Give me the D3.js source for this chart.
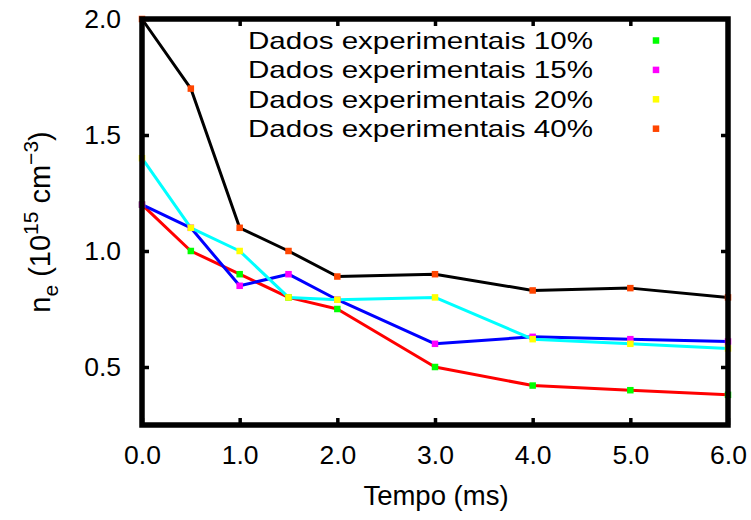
<!DOCTYPE html>
<html>
<head>
<meta charset="utf-8">
<script src="https://cdn.jsdelivr.net/npm/d3@7"></script>
<style>
  html, body { margin: 0; padding: 0; background: #fff; }
  svg { display: block; }
  text { font-family: "Liberation Sans", Arial, Helvetica, sans-serif; fill: #000; }
</style>
</head>
<body>
<svg id="chart" width="751" height="520"></svg>
<script>
// ---- data ----
const times = [0, 0.5, 1.0, 1.5, 2.0, 3.0, 4.0, 5.0, 6.0];
const serie10 = [1.20, 1.00, 0.90, 0.80, 0.75, 0.50, 0.42, 0.40, 0.38];
const serie15 = [1.20, 1.10, 0.85, 0.90, 0.79, 0.60, 0.63, 0.62, 0.61];
const serie20 = [1.40, 1.10, 1.00, 0.80, 0.79, 0.80, 0.62, 0.60, 0.58];
const serie40 = [2.00, 1.70, 1.10, 1.00, 0.89, 0.90, 0.83, 0.84, 0.80];
const legendLabels = ["Dados experimentais 10%", "Dados experimentais 15%", "Dados experimentais 20%", "Dados experimentais 40%"];
const xTicks = [0, 1, 2, 3, 4, 5, 6];
const yTicks = [0.5, 1.0, 1.5, 2.0];
const lineColors = ["#ff0000", "#0000ff", "#00ffff", "#000000"];
const pointColors = ["#00ff00", "#ff00ff", "#ffff00", "#ff4500"];

const seriesList = [serie10, serie15, serie20, serie40];

const svg = d3.select("#chart");
const pL = 142, pR = 728, pT = 19, pB = 425;

const x = d3.scaleLinear().domain([0, 6]).range([pL, pR]);
const y = d3.scaleLinear().domain([0.25, 2.0]).range([pB, pT]);

// lines
const line = d3.line().x((d, i) => x(times[i])).y(d => y(d));
seriesList.forEach((s, k) => {
  svg.append("path")
    .datum(s)
    .attr("d", line)
    .attr("fill", "none")
    .attr("stroke", lineColors[k])
    .attr("stroke-width", 3)
    .attr("stroke-linejoin", "round");
});

// points
const ps = 6.5;
seriesList.forEach((s, k) => {
  svg.append("g").selectAll("rect")
    .data(s)
    .join("rect")
    .attr("x", (d, i) => x(times[i]) - ps / 2)
    .attr("y", d => y(d) - ps / 2)
    .attr("width", ps)
    .attr("height", ps)
    .attr("fill", pointColors[k]);
});

// axes (ticks inward, mirrored)
const tickLen = 7;
const axB = svg.append("g").attr("transform", `translate(0,${pB})`)
  .call(d3.axisBottom(x).tickValues(xTicks).tickSize(-tickLen).tickPadding(20).tickFormat(d3.format(".1f")));
const axT = svg.append("g").attr("transform", `translate(0,${pT})`)
  .call(d3.axisTop(x).tickValues(xTicks.slice(1, -1)).tickSize(-tickLen).tickFormat(""));
const axL = svg.append("g").attr("transform", `translate(${pL},0)`)
  .call(d3.axisLeft(y).tickValues(yTicks).tickSize(-tickLen).tickPadding(21).tickFormat(d3.format(".1f")));
const axR = svg.append("g").attr("transform", `translate(${pR},0)`)
  .call(d3.axisRight(y).tickValues(yTicks.slice(0, -1)).tickSize(-tickLen).tickFormat(""));

[axB, axT, axL, axR].forEach(a => {
  a.select(".domain").remove();
  a.selectAll(".tick line").attr("stroke", "#000").attr("stroke-width", 3.5);
  a.selectAll(".tick text").style("font-family", '"Liberation Sans", Arial, sans-serif').style("font-size", "26.5px").attr("fill", "#000");
});

// frame
svg.append("rect")
  .attr("x", pL).attr("y", pT)
  .attr("width", pR - pL).attr("height", pB - pT)
  .attr("fill", "none").attr("stroke", "#000").attr("stroke-width", 5.5);

// legend
const legBase = [49, 78.4, 107.8, 137.2];
legendLabels.forEach((lab, k) => {
  svg.append("text")
    .attr("x", 248).attr("y", legBase[k])
    .attr("textLength", 345).attr("lengthAdjust", "spacingAndGlyphs")
    .style("font-size", "24px")
    .text(lab);
  svg.append("rect")
    .attr("x", 656 - ps / 2).attr("y", legBase[k] - 8.5 - ps / 2)
    .attr("width", ps).attr("height", ps)
    .attr("fill", pointColors[k]);
});

// axis titles
svg.append("text")
  .attr("x", 436).attr("y", 505)
  .attr("text-anchor", "middle")
  .style("font-size", "27.5px")
  .text("Tempo (ms)");

const yl = svg.append("text")
  .attr("transform", "translate(50,222) rotate(-90)")
  .attr("text-anchor", "middle")
  .style("font-size", "29px");
yl.append("tspan").text("n");
yl.append("tspan").attr("dy", 8).style("font-size", "21px").text("e");
yl.append("tspan").attr("dy", -8).text(" (10");
yl.append("tspan").attr("dy", -12).style("font-size", "21px").text("15");
yl.append("tspan").attr("dy", 12).text(" cm");
yl.append("tspan").attr("dy", -12).style("font-size", "21px").text("\u22123");
yl.append("tspan").attr("dy", 12).text(")");
</script>
</body>
</html>
